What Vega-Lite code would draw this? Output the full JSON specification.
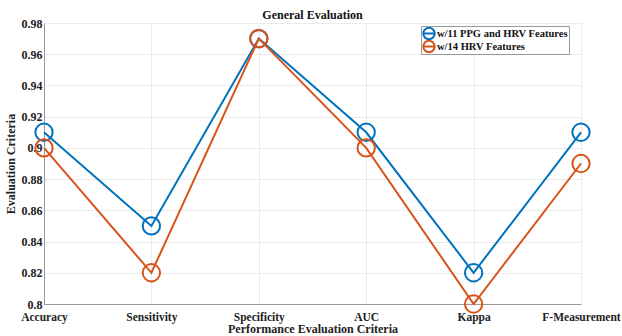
{
  "$schema": "https://vega.github.io/schema/vega-lite/v6.json",
  "width": 537,
  "height": 281,
  "autosize": "none",
  "padding": {"left": 44, "top": 23, "right": 41, "bottom": 32},
  "background": "white",
  "title": {"text": "General  Evaluation", "font": "Liberation Serif", "fontSize": 12, "fontWeight": "bold", "color": "#111", "offset": 3, "frame": "group", "dy": 8},
  "config": {
    "view": {"stroke": "#999", "strokeWidth": 1},
    "axis": {
      "labelFont": "Liberation Serif", "labelFontWeight": "bold", "labelFontSize": 11.5, "labelColor": "#222",
      "titleFont": "Liberation Serif", "titleFontWeight": "bold", "titleFontSize": 12, "titleColor": "#222",
      "gridColor": "#ebebeb", "gridWidth": 1, "domainColor": "#999", "ticks": false
    }
  },
  "data": {"values": [
    {"criteria": "Accuracy", "series": "w/11 PPG and HRV Features", "value": 0.91},
    {"criteria": "Sensitivity", "series": "w/11 PPG and HRV Features", "value": 0.85},
    {"criteria": "Specificity", "series": "w/11 PPG and HRV Features", "value": 0.97},
    {"criteria": "AUC", "series": "w/11 PPG and HRV Features", "value": 0.91},
    {"criteria": "Kappa", "series": "w/11 PPG and HRV Features", "value": 0.82},
    {"criteria": "F-Measurement", "series": "w/11 PPG and HRV Features", "value": 0.91},
    {"criteria": "Accuracy", "series": "w/14 HRV Features", "value": 0.90},
    {"criteria": "Sensitivity", "series": "w/14 HRV Features", "value": 0.82},
    {"criteria": "Specificity", "series": "w/14 HRV Features", "value": 0.97},
    {"criteria": "AUC", "series": "w/14 HRV Features", "value": 0.90},
    {"criteria": "Kappa", "series": "w/14 HRV Features", "value": 0.80},
    {"criteria": "F-Measurement", "series": "w/14 HRV Features", "value": 0.89}
  ]},
  "encoding": {
    "x": {"field": "criteria", "type": "ordinal", "sort": ["Accuracy", "Sensitivity", "Specificity", "AUC", "Kappa", "F-Measurement"],
      "scale": {"type": "point", "padding": 0},
      "axis": {"title": "Performance Evaluation Criteria", "labelAngle": 0, "grid": true, "labelPadding": 7, "titlePadding": 1, "labelOverlap": false}},
    "y": {"field": "value", "type": "quantitative",
      "scale": {"domain": [0.8, 0.98], "nice": false, "zero": false},
      "axis": {"title": "Evaluation Criteria", "values": [0.8, 0.82, 0.84, 0.86, 0.88, 0.9, 0.92, 0.94, 0.96, 0.98], "format": ".2~f", "grid": true, "labelPadding": 2, "titlePadding": 4, "labelFontSize": 12}},
    "color": {"field": "series", "type": "nominal",
      "scale": {"domain": ["w/11 PPG and HRV Features", "w/14 HRV Features"], "range": ["#0072BD", "#D95319"]},
      "legend": {"title": null, "orient": "none", "legendX": 377, "legendY": 3,
        "symbolType": "M-1,0A1,1 0 1,0 1,0A1,1 0 1,0 -1,0M-1,0L1,0",
        "symbolSize": 130, "symbolStrokeWidth": 2, "symbolFillColor": "transparent",
        "labelFont": "Liberation Serif", "labelFontWeight": "bold", "labelFontSize": 10.5, "labelColor": "#111",
        "strokeColor": "#999", "fillColor": "white", "padding": 1, "rowPadding": 0, "labelOffset": 1, "clipHeight": 13}}
  },
  "layer": [
    {"mark": {"type": "line", "strokeWidth": 2}},
    {"mark": {"type": "point", "shape": "circle", "size": 300, "strokeWidth": 2, "filled": false, "opacity": 1}}
  ]
}
